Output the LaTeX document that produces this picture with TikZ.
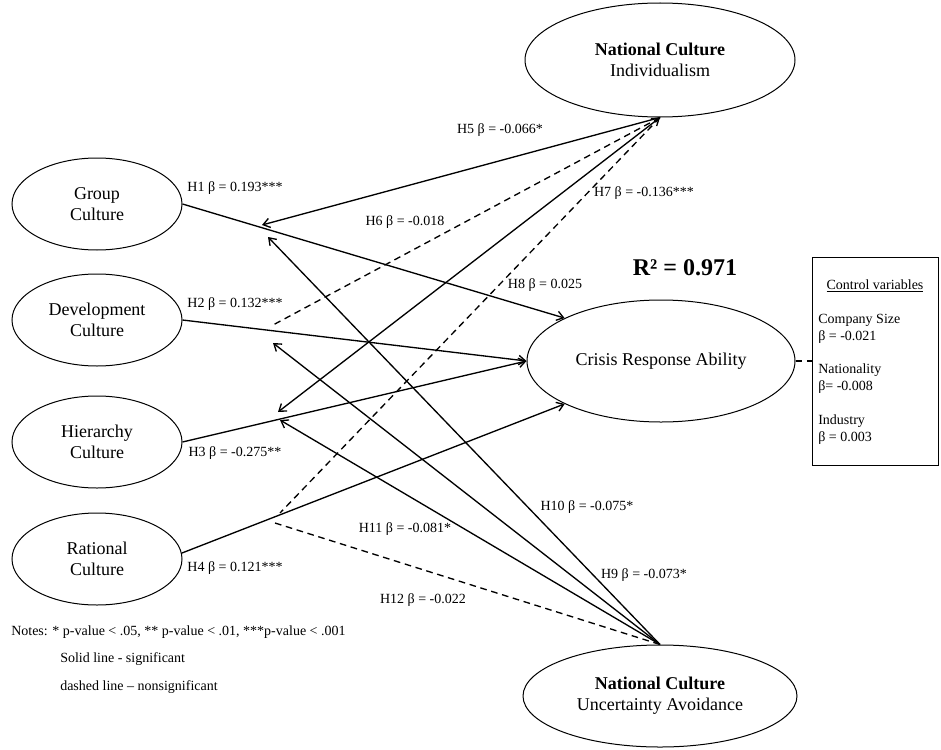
\documentclass[tikz,border=0pt]{standalone}
\usepackage{fontspec}
\setmainfont{Liberation Serif}
\usepackage{tikz}
\usetikzlibrary{shapes.geometric,arrows.meta}
\tikzset{
  construct/.style={ellipse, draw=black, line width=0.75pt, inner sep=0pt, align=center, font=\fontsize{13.5}{15.75}\selectfont},
  sig/.style={draw=black, line width=1pt},
  nsig/.style={draw=black, line width=1pt, dash pattern=on 5pt off 3.5pt},
  hyp/.style={font=\fontsize{10.5}{12}\selectfont, inner sep=0pt},
  ctl/.style={font=\fontsize{10.5}{12.75}\selectfont, anchor=west, inner sep=0pt, align=left},
  note/.style={font=\fontsize{10.5}{12}\selectfont, anchor=west, inner sep=0pt},
  >={Straight Barb[length=5pt,width=7pt]},
}
\begin{document}
\begin{tikzpicture}[x=0.75pt,y=-0.75pt]
  \useasboundingbox (0,0) rectangle (941,749);
  % constructs
  \node[construct, minimum width=127.5pt, minimum height=69pt] (grp) at (97,204) {Group\\Culture};
  \node[construct, minimum width=127.5pt, minimum height=69pt] (dev) at (97,320) {Development\\Culture};
  \node[construct, minimum width=127.5pt, minimum height=69pt] (hier) at (97,442) {Hierarchy\\Culture};
  \node[construct, minimum width=127.5pt, minimum height=69pt] (rat) at (97,559) {Rational\\Culture};
  \node[construct, minimum width=202.5pt, minimum height=85.5pt] (ind) at (660,60) {\textbf{National Culture}\\Individualism};
  \node[construct, minimum width=201pt, minimum height=91.5pt] (cra) at (661,361) {Crisis Response Ability};
  \node[construct, minimum width=205.5pt, minimum height=76.5pt] (ua) at (660,696) {\textbf{National Culture}\\Uncertainty Avoidance};
  % moderation points
  \coordinate (m5) at (262,225); \coordinate (m9) at (268,237);
  \coordinate (m6) at (273,325); \coordinate (m10) at (273,343);
  \coordinate (m7) at (278,412); \coordinate (m11) at (280,420);
  \coordinate (m8) at (280,513); \coordinate (m12) at (275,523);
  % direct effects
  \draw[sig,->] (grp.east) -- (cra.156);
  \draw[sig,->] (dev.east) -- (cra.west);
  \draw[sig,->] (hier.east) -- (cra.west);
  \draw[sig,->] (rat.4) -- (cra.204);
  % moderators
  \draw[sig,->] (ind.south) -- (m5);
  \draw[nsig] (ind.south) -- (m6);
  \draw[sig,<->] (ind.south) -- (m7);
  \draw[nsig] (ind.south) -- (m8);
  \draw[sig,->] (ua.north) -- (m9);
  \draw[sig,->] (ua.north) -- (m10);
  \draw[sig,->] (ua.north) -- (m11);
  \draw[nsig] (m12) -- (ua.north);
  % labels
  \node[hyp] (h1) at (235,188) {H1 β = 0.193***};
  \node[hyp] (h2) at (235,304) {H2 β = 0.132***};
  \node[hyp] (h3) at (235,453) {H3 β = -0.275**};
  \node[hyp] (h4) at (235,568) {H4 β = 0.121***};
  \node[hyp] (h5) at (500,130) {H5 β = -0.066*};
  \node[hyp] (h6) at (405,222) {H6 β = -0.018};
  \node[hyp] (h7) at (644,193) {H7 β = -0.136***};
  \node[hyp] (h8) at (545,285) {H8 β = 0.025};
  \node[hyp] (h9) at (644,575) {H9 β = -0.073*};
  \node[hyp] (h10) at (587,507) {H10 β = -0.075*};
  \node[hyp] (h11) at (405,529) {H11 β = -0.081*};
  \node[hyp] (h12) at (423,600) {H12 β = -0.022};
  \node[font=\bfseries\fontsize{18}{20}\selectfont, inner sep=0pt] (rsq) at (685,268) {R² = 0.971};
  % control variables
  \node[draw=black, line width=0.75pt, minimum width=94.5pt, minimum height=156pt, inner sep=0pt] (ctrl) at (875,361) {};
  \draw[nsig] (cra.east) -- (ctrl.west);
  \node[hyp] (cvt) at (875,286) {\underline{Control variables}};
  \node[ctl] (cv1) at (818,328.5) {Company Size\\β = -0.021};
  \node[ctl] (cv2) at (818,378.5) {Nationality\\β= -0.008};
  \node[ctl] (cv3) at (818,430) {Industry\\β = 0.003};
  % notes
  \node[note] (n1) at (11,632) {Notes: * p-value < .05, ** p-value < .01, ***p-value < .001};
  \node[note] (n2) at (60,659) {Solid line - significant};
  \node[note] (n3) at (60,687) {dashed line – nonsignificant};
\end{tikzpicture}
\end{document}
